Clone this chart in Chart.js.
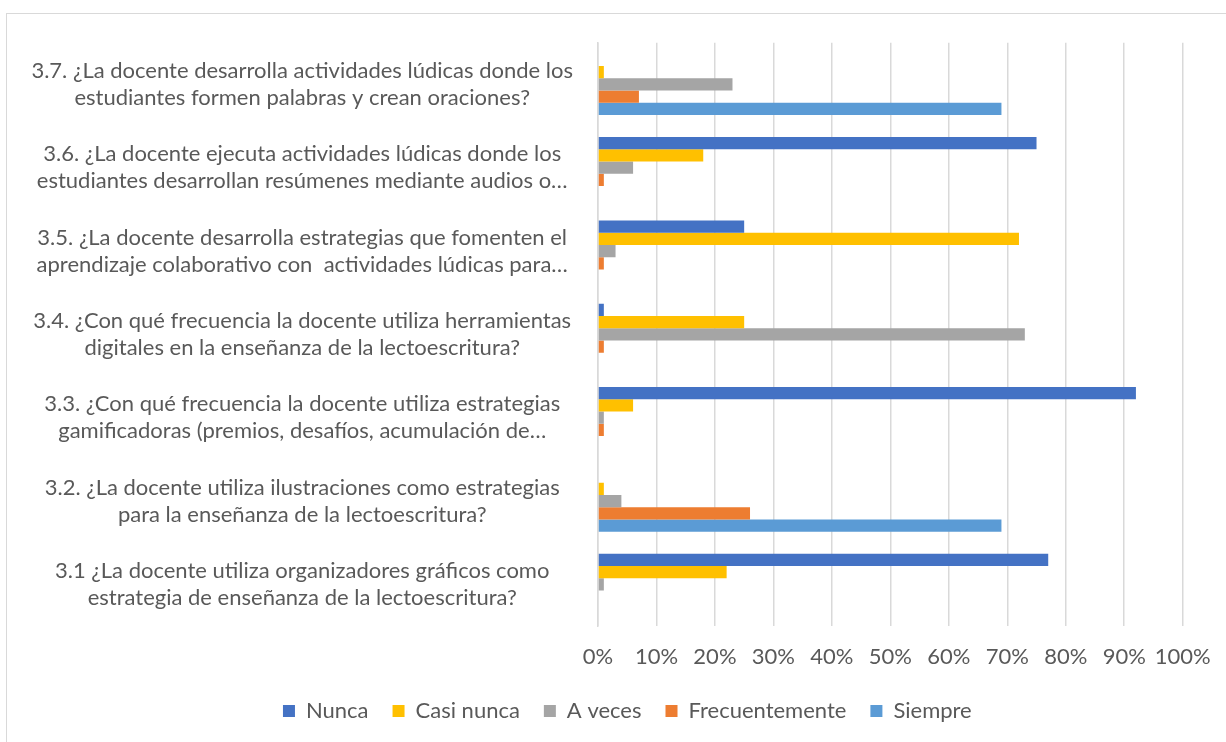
<!DOCTYPE html>
<html>
<head>
<meta charset="utf-8">
<script src="https://cdn.jsdelivr.net/npm/chart.js@4"></script>
<style>
    html, body { margin: 0; padding: 0; background: #fff; overflow: hidden; }
    #frame { position: absolute; left: 6px; top: 13px; width: 1400px; height: 1000px; border: 1.5px solid #d9d9d9; }
    #wrap { position: absolute; left: 0; top: 0; width: 1226px; height: 742px; }
</style>
</head>
<body>
<div id="frame"></div>
<div id="wrap"><canvas id="chart"></canvas></div>
<script>
const questions = [
    ["3.7. ¿La docente desarrolla actividades lúdicas donde los", "estudiantes formen palabras y crean oraciones?"],
    ["3.6. ¿La docente ejecuta actividades lúdicas donde los", "estudiantes desarrollan resúmenes mediante audios o…"],
    ["3.5. ¿La docente desarrolla estrategias que fomenten el", "aprendizaje colaborativo con  actividades lúdicas para…"],
    ["3.4. ¿Con qué frecuencia la docente utiliza herramientas", "digitales en la enseñanza de la lectoescritura?"],
    ["3.3. ¿Con qué frecuencia la docente utiliza estrategias", "gamificadoras (premios, desafíos, acumulación de…"],
    ["3.2. ¿La docente utiliza ilustraciones como estrategias", "para la enseñanza de la lectoescritura?"],
    ["3.1 ¿La docente utiliza organizadores gráficos como", "estrategia de enseñanza de la lectoescritura?"]
];

const nunca          = [0, 75, 25, 1, 92, 0, 77];
const casiNunca      = [1, 18, 72, 25, 6, 1, 22];
const aVeces         = [23, 6, 3, 73, 1, 4, 1];
const frecuentemente = [7, 1, 1, 1, 1, 26, 0];
const siempre        = [69, 0, 0, 0, 0, 69, 0];

const xTicks = [0, 10, 20, 30, 40, 50, 60, 70, 80, 90, 100];

const textColor = "#595959";
const font = { family: "Lato, 'Open Sans', sans-serif", size: 22 };

const series = [
    { label: "Nunca", data: nunca, color: "#4472C4" },
    { label: "Casi nunca", data: casiNunca, color: "#FFC000" },
    { label: "A veces", data: aVeces, color: "#A5A5A5" },
    { label: "Frecuentemente", data: frecuentemente, color: "#ED7D31" },
    { label: "Siempre", data: siempre, color: "#5B9BD5" }
];

// the legend in the original sits a bit right of the canvas centre
const legendShift = {
    id: "legendShift",
    afterLayout(chart) {
        chart.legend.left += 36;
        chart.legend.right += 36;
    }
};

new Chart(document.getElementById("chart"), {
    type: "bar",
    data: {
        labels: questions,
        datasets: series.map(s => ({
            label: s.label,
            data: s.data,
            backgroundColor: s.color,
            borderWidth: 0,
            categoryPercentage: 0.735,
            barPercentage: 1.0
        }))
    },
    options: {
        indexAxis: "y",
        responsive: true,
        maintainAspectRatio: false,
        animation: false,
        layout: { padding: { top: 42.7, right: 43.3, bottom: 10, left: 0 } },
        scales: {
            x: {
                min: 0,
                max: 100,
                afterBuildTicks: s => { s.ticks = xTicks.map(v => ({ value: v })); },
                grid: { color: "#d9d9d9", lineWidth: 1.5, drawTicks: false },
                border: { display: false },
                ticks: {
                    color: textColor,
                    font: font,
                    padding: 18,
                    maxRotation: 0,
                    minRotation: 0,
                    autoSkip: false,
                    callback: v => v + "%"
                },
                afterFit: s => { s.height = 50; s.paddingLeft = 0; s.paddingRight = 0; }
            },
            y: {
                grid: { display: false },
                border: { display: true, color: "#d9d9d9", width: 1.5 },
                ticks: {
                    color: textColor,
                    font: { ...font, lineHeight: 1.23 },
                    padding: 17,
                    crossAlign: "center",
                    autoSkip: false
                },
                afterFit: s => { s.width = 598; s.paddingTop = 0; s.paddingBottom = 0; }
            }
        },
        plugins: {
            legend: {
                position: "bottom",
                labels: {
                    color: textColor,
                    font: font,
                    boxWidth: 12,
                    boxHeight: 12,
                    padding: 24
                }
            },
            tooltip: { enabled: false }
        }
    },
    plugins: [legendShift]
});
</script>
</body>
</html>
